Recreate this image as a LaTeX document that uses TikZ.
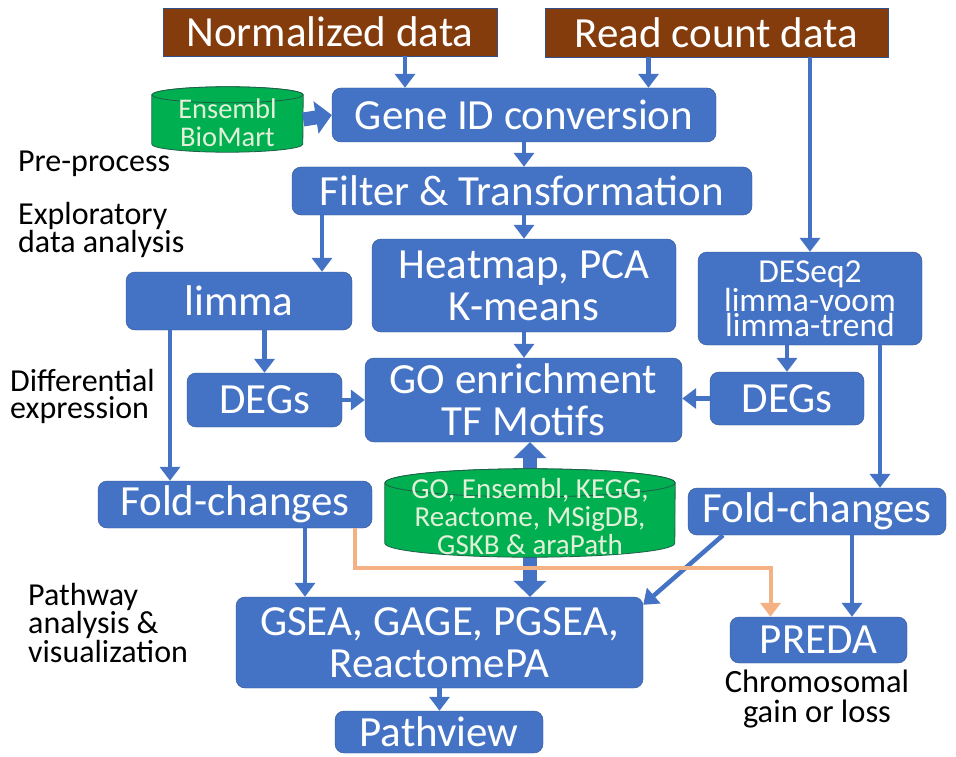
\documentclass[tikz,border=0pt]{standalone}
\usepackage{fontspec}
\setmainfont{Carlito}
\usepackage{xcolor}
\usetikzlibrary{arrows.meta,positioning,calc,backgrounds}
\definecolor{boxblue}{HTML}{4472C4}
\definecolor{boxline}{HTML}{2F528F}
\definecolor{srcbrown}{HTML}{843C0C}
\definecolor{dbgreen}{HTML}{00B050}
\definecolor{dbline}{HTML}{1F5F4A}
\definecolor{dbtext}{HTML}{E2F0D9}
\definecolor{fcorange}{HTML}{F4B183}

\begin{document}
\begin{tikzpicture}[x=1pt, y=-1pt,
  box/.style={draw=boxline, fill=boxblue, rounded corners=9pt, text=white, align=center,
              inner sep=0pt, font=\fontsize{43}{42}\selectfont},
  src/.style={draw=boxline, fill=srcbrown, text=white, inner sep=0pt,
              font=\fontsize{43}{42}\selectfont},
  db/.style={text=dbtext, align=center, inner sep=0pt},
  dbbody/.style={draw=dbline, fill=dbgreen, line width=0.8pt},
  stage/.style={anchor=west, align=left, inner sep=0pt, font=\fontsize{32}{27}\selectfont},
  arr/.style={-{Triangle[length=14pt, width=20pt]}, boxblue, line width=4.5pt},
  fatarr/.style={-{Triangle[length=16pt, width=32pt]}, boxblue, line width=14pt},
  orarr/.style={-{Triangle[length=14pt, width=20pt]}, fcorange, line width=4pt}
]
\useasboundingbox (0,0) rectangle (956,757);

\node[src, minimum width=334pt, minimum height=48pt] (norm) at (330,32) {Normalized data};
\node[src, minimum width=343pt, minimum height=49pt] (rcount) at (716.5,32.5) {Read count data};

\node[box, minimum width=384pt, minimum height=54pt] (gene) at (524,115) {Gene ID conversion};
\node[db, minimum width=151pt, minimum height=65pt, font=\fontsize{28.5}{26}\selectfont] (ensdb) at (227.5,119.5)
  {\raisebox{-7pt}[\height][\depth]{\begin{tabular}{@{}c@{}}Ensembl\\BioMart\end{tabular}}};
\node[box, minimum width=460pt, minimum height=48pt] (filt) at (522,191) {Filter \& Transformation};

\node[box, minimum width=304pt, minimum height=93pt] (heat) at (524,285.5) {Heatmap, PCA\\K-means};
\node[box, minimum width=226pt, minimum height=58pt] (limma) at (239,301) {limma};
\node[box, minimum width=224pt, minimum height=93pt, font=\fontsize{33.5}{24.5}\selectfont] (deseq) at (810,298.5)
  {DESeq2\\limma-voom\\limma-trend};

\node[box, minimum width=155pt, minimum height=54pt] (degl) at (264.5,400) {DEGs};
\node[box, minimum width=317pt, minimum height=84pt] (goen) at (523.5,400) {GO enrichment\\TF Motifs};
\node[box, minimum width=154pt, minimum height=53pt] (degr) at (787,398.5) {DEGs};

\node[box, minimum width=274pt, minimum height=47pt] (foldl) at (235,504.5) {Fold-changes};
\node[box, minimum width=258pt, minimum height=47pt] (foldr) at (817,511.5) {Fold-changes};

\node[box, minimum width=407pt, minimum height=91pt] (gsea) at (439.5,642.5) {GSEA, GAGE, PGSEA,\\ReactomePA};
\node[box, minimum width=177pt, minimum height=46pt] (preda) at (818.5,640) {PREDA};
\node[box, minimum width=208pt, minimum height=42pt] (pathv) at (439,732) {Pathview};

\node[db, minimum width=290pt, minimum height=88pt, font=\fontsize{29}{26.5}\selectfont] (godb) at (530,513)
  {\raisebox{-7pt}[\height][\depth]{\begin{tabular}{@{}c@{}}GO, Ensembl, KEGG,\\Reactome, MSigDB,\\GSKB \& araPath\end{tabular}}};

\begin{scope}[on background layer]
\draw[fatarr] (godb.center) -- (goen.south -| godb.center);
\draw[fatarr] (godb.center) -- (gsea.north -| godb.center);
\path[dbbody] ([yshift=-14pt]godb.north west) -- ([yshift=14pt]godb.south west)
  arc[start angle=180, end angle=360, x radius=145pt, y radius=14pt]
  -- ([yshift=-14pt]godb.north east)
  arc[start angle=0, end angle=180, x radius=145pt, y radius=14pt] -- cycle;
\draw[dbbody] ([yshift=-14pt]godb.north) ellipse [x radius=145pt, y radius=14pt];
\path[dbbody] ([yshift=-8pt]ensdb.north west) -- ([yshift=8pt]ensdb.south west)
  arc[start angle=180, end angle=360, x radius=75.5pt, y radius=8pt]
  -- ([yshift=-8pt]ensdb.north east)
  arc[start angle=0, end angle=180, x radius=75.5pt, y radius=8pt] -- cycle;
\draw[dbbody] ([yshift=-8pt]ensdb.north) ellipse [x radius=75.5pt, y radius=8pt];
\end{scope}

\node[stage] (pre) at (18,164) {Pre-process};
\node[stage] (eda) at (18,230) {Exploratory\\data analysis};
\node[stage] (dif) at (10,396) {Differential\\expression};
\node[stage] (pwy) at (28,623) {Pathway\\analysis \&\\visualization};
\node[align=center, inner sep=0pt, font=\fontsize{32.5}{30}\selectfont] (chrom) at (817,699) {Chromosomal\\gain or loss};

\draw[arr] ([xshift=75pt]norm.south) -- ([xshift=75pt]norm.south |- gene.north);
\draw[arr] ([xshift=-68pt]rcount.south) -- ([xshift=-68pt]rcount.south |- gene.north);
\draw[arr] (rcount.south -| deseq.north) -- (deseq.north);
\draw[fatarr] (ensdb.east) -- (gene.west);
\draw[arr] (gene.south) -- (gene.south |- filt.north);
\draw[arr] ([xshift=83pt]limma.north |- filt.south) -- ([xshift=83pt]limma.north);
\draw[arr] (filt.south -| heat.north) -- (heat.north);
\draw[arr] (heat.south) -- (heat.south |- goen.north);
\draw[arr] (degl.north |- limma.south) -- (degl.north);
\draw[arr] ([xshift=-69pt]limma.south) -- ([xshift=-69pt]limma.south |- foldl.north);
\draw[arr] (degl.east) -- (goen.west |- degl.east);
\draw[arr] (degr.west) -- (goen.east |- degr.west);
\draw[arr] (degr.north |- deseq.south) -- (degr.north);
\draw[arr] ([xshift=70pt]deseq.south) -- ([xshift=70pt]deseq.south |- foldr.north);
\draw[arr] ([xshift=70pt]foldl.south) -- ([xshift=70pt]foldl.south |- gsea.north);
\draw[arr] ([xshift=-94pt]foldr.south) -- ([yshift=-8pt]gsea.north east);
\draw[arr] ([xshift=35pt]foldr.south) -- ([xshift=35pt]foldr.south |- preda.north);
\draw[orarr] ([xshift=120pt]foldl.south) -- ++(0,40) -| ([xshift=-48pt]preda.north);
\draw[arr] (gsea.south) -- (gsea.south |- pathv.north);
\end{tikzpicture}
\end{document}
